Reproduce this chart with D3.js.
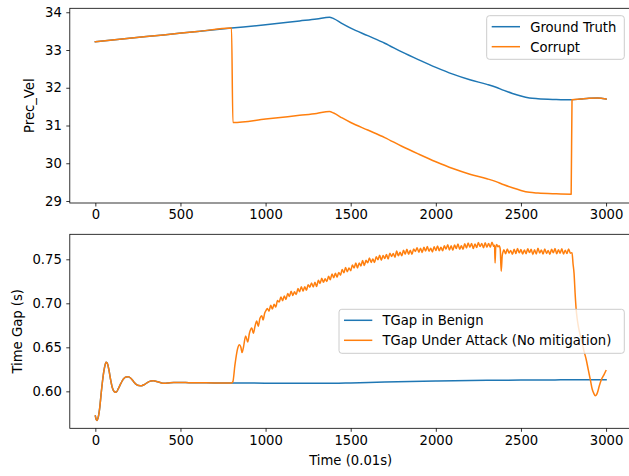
<!DOCTYPE html>
<html>
<head>
<meta charset="utf-8">
<script src="https://cdn.jsdelivr.net/npm/d3@7"></script>
<style>
  html, body { margin: 0; padding: 0; background: #ffffff; }
  svg { display: block; }
  text { font-family: "DejaVu Sans", sans-serif; fill: #000; }
</style>
</head>
<body>
<div id="chart"></div>
<script>
// ---------- data ----------
// x axis ticks (time in 0.01 s steps)
const timeTicks = [0, 500, 1000, 1500, 2000, 2500, 3000];
const velTicks = [29, 30, 31, 32, 33, 34];
const gapTicks = [0.60, 0.65, 0.70, 0.75];

// Preceding vehicle velocity before the attack starts (shared by both series)
const velBeforeAttack = [[0, 33.22], [200, 33.31], [400, 33.40], [600, 33.49], [800, 33.58]];

// Ground-truth velocity after t = 800
const groundTruthTail = [
  [1000, 33.67], [1200, 33.77], [1300, 33.82], [1375, 33.87], [1400, 33.83], [1450, 33.70],
  [1500, 33.58], [1600, 33.38], [1700, 33.18], [1800, 32.95], [1900, 32.74], [2000, 32.54],
  [2100, 32.36], [2200, 32.21], [2300, 32.09], [2350, 32.02], [2400, 31.93], [2450, 31.85],
  [2500, 31.78], [2550, 31.73], [2600, 31.71], [2700, 31.69], [2795, 31.68], [2850, 31.70],
  [2900, 31.72], [2950, 31.73], [3000, 31.70]
];

// Corrupted velocity reading after t = 800
const corruptTail = [
  [808, 31.08], [1000, 31.17], [1200, 31.27], [1300, 31.32], [1375, 31.37], [1400, 31.33],
  [1450, 31.20], [1500, 31.08], [1600, 30.88], [1700, 30.68], [1800, 30.45], [1900, 30.24],
  [2000, 30.04], [2100, 29.86], [2200, 29.71], [2300, 29.59], [2350, 29.52], [2400, 29.43],
  [2450, 29.35], [2500, 29.28], [2550, 29.23], [2600, 29.21], [2700, 29.19], [2795, 29.18],
  [2800, 31.68], [2850, 31.70], [2900, 31.72], [2950, 31.73], [3000, 31.70]
];

// Time gap during the initial settling (shared by both runs)
const gapSettling = [
  [0, 0.5720], [5, 0.5680], [10, 0.5670], [15, 0.5690], [25, 0.5800], [35, 0.5990],
  [45, 0.6160], [55, 0.6280], [63, 0.6330], [70, 0.6320], [80, 0.6240], [90, 0.6130],
  [100, 0.6040], [112, 0.5995], [122, 0.5990], [135, 0.6030], [150, 0.6090], [165, 0.6140],
  [180, 0.6163], [194, 0.6166], [210, 0.6145], [225, 0.6110], [240, 0.6080], [255, 0.6066],
  [272, 0.6064], [290, 0.6080], [310, 0.6105], [326, 0.6117], [341, 0.6120], [360, 0.6112],
  [380, 0.6100], [395, 0.6092], [409, 0.6091], [430, 0.6095], [460, 0.6100], [500, 0.6100],
  [550, 0.6098], [600, 0.6097], [700, 0.6096], [800, 0.6095]
];

// Benign time gap after t = 800
const benignTail = [
  [900, 0.6094], [1000, 0.6093], [1200, 0.6092], [1400, 0.6091], [1500, 0.6095], [1700, 0.6105],
  [2000, 0.6117], [2300, 0.6125], [2500, 0.6128], [2700, 0.6130], [3000, 0.6131]
];

// Time gap under attack after t = 800
const attackTail = [
  [808, 0.611], [820, 0.630], [835, 0.648], [846, 0.653], [855, 0.650], [862, 0.644],
  [870, 0.650], [883, 0.663], [895, 0.656], [905, 0.666], [919, 0.672], [928, 0.666],
  [938, 0.674], [948, 0.680], [957, 0.674], [967, 0.683], [978, 0.686], [985, 0.681],
  [995, 0.689], [1003, 0.692],
  [1010, 0.6941], [1020, 0.6911], [1030, 0.6977], [1040, 0.6934], [1050, 0.6990], [1060, 0.6958], [1070, 0.7031], [1080, 0.7014], [1090, 0.7073], [1100, 0.7030],
  [1110, 0.7083], [1120, 0.7044], [1130, 0.7112], [1140, 0.7078], [1150, 0.7138], [1160, 0.7090], [1170, 0.7130], [1180, 0.7099], [1190, 0.7167], [1200, 0.7132],
  [1210, 0.7189], [1220, 0.7138], [1230, 0.7188], [1240, 0.7147], [1250, 0.7212], [1260, 0.7183], [1270, 0.7232], [1280, 0.7186], [1290, 0.7238], [1300, 0.7191],
  [1310, 0.7261], [1320, 0.7226], [1330, 0.7285], [1340, 0.7238], [1350, 0.7278], [1360, 0.7247], [1370, 0.7308], [1380, 0.7267], [1390, 0.7334], [1400, 0.7291],
  [1410, 0.7341], [1420, 0.7297], [1430, 0.7351], [1440, 0.7320], [1450, 0.7385], [1460, 0.7346], [1470, 0.7408], [1480, 0.7358], [1490, 0.7402], [1500, 0.7371],
  [1510, 0.7435], [1520, 0.7402], [1530, 0.7457], [1540, 0.7402], [1550, 0.7459], [1560, 0.7425], [1570, 0.7485], [1580, 0.7429], [1590, 0.7488], [1600, 0.7460],
  [1610, 0.7516], [1620, 0.7464], [1630, 0.7503], [1640, 0.7465], [1650, 0.7529], [1660, 0.7495], [1670, 0.7546], [1680, 0.7489], [1690, 0.7542], [1700, 0.7508],
  [1710, 0.7554], [1720, 0.7502], [1730, 0.7569], [1740, 0.7532], [1750, 0.7565], [1760, 0.7524], [1770, 0.7593], [1780, 0.7539], [1790, 0.7579], [1800, 0.7540],
  [1810, 0.7602], [1820, 0.7558], [1830, 0.7613], [1840, 0.7558], [1850, 0.7603], [1860, 0.7557], [1870, 0.7617], [1880, 0.7589], [1890, 0.7632], [1900, 0.7581],
  [1910, 0.7626], [1920, 0.7578], [1930, 0.7636], [1940, 0.7594], [1950, 0.7645], [1960, 0.7591], [1970, 0.7626], [1980, 0.7584], [1990, 0.7642], [2000, 0.7600],
  [2010, 0.7652], [2020, 0.7598], [2030, 0.7638], [2040, 0.7597], [2050, 0.7654], [2060, 0.7616], [2070, 0.7666], [2080, 0.7606], [2090, 0.7654], [2100, 0.7604],
  [2110, 0.7662], [2120, 0.7623], [2130, 0.7673], [2140, 0.7615], [2150, 0.7655], [2160, 0.7614], [2170, 0.7677], [2180, 0.7629], [2190, 0.7685], [2200, 0.7637],
  [2210, 0.7679], [2220, 0.7623], [2230, 0.7673], [2240, 0.7634], [2250, 0.7690], [2260, 0.7644], [2270, 0.7680], [2280, 0.7630], [2290, 0.7689], [2300, 0.7637],
  [2310, 0.7679], [2320, 0.7637], [2330, 0.7695], [2340, 0.7647],
  [2345, 0.7660], [2348, 0.7458], [2352, 0.7640], [2358, 0.7668], [2364, 0.7642], [2372, 0.7655],
  [2378, 0.7620], [2384, 0.7364], [2390, 0.7540], [2396, 0.7590],
  [2400, 0.7609], [2410, 0.7562], [2420, 0.7618], [2430, 0.7570], [2440, 0.7601], [2450, 0.7556], [2460, 0.7615], [2470, 0.7567], [2480, 0.7622], [2490, 0.7573],
  [2500, 0.7612], [2510, 0.7559], [2520, 0.7606], [2530, 0.7564], [2540, 0.7619], [2550, 0.7576], [2560, 0.7614], [2570, 0.7555], [2580, 0.7608], [2590, 0.7561],
  [2600, 0.7625], [2610, 0.7571], [2620, 0.7605], [2630, 0.7560], [2640, 0.7618], [2650, 0.7567], [2660, 0.7601], [2670, 0.7556], [2680, 0.7615], [2690, 0.7573],
  [2700, 0.7622], [2710, 0.7562], [2720, 0.7609], [2730, 0.7569], [2740, 0.7619], [2750, 0.7559], [2760, 0.7604], [2770, 0.7565], [2780, 0.7617], [2790, 0.7570],
  [2800, 0.7575], [2806, 0.7450], [2812, 0.7340], [2818, 0.7120], [2824, 0.6940], [2830, 0.6830],
  [2838, 0.6730], [2848, 0.6640], [2858, 0.6564], [2870, 0.6460], [2884, 0.6356], [2896, 0.6240],
  [2908, 0.6128], [2918, 0.6030], [2928, 0.5977], [2937, 0.5950], [2945, 0.5965], [2951, 0.5995],
  [2960, 0.6060], [2968, 0.6110], [2976, 0.6148], [2988, 0.6190], [2999, 0.6234]
];

const velLegend = ["Ground Truth", "Corrupt"];
const gapLegend = ["TGap in Benign", "TGap Under Attack (No mitigation)"];
const colors = ["#1f77b4", "#ff7f0e"];

// ---------- layout ----------
const W = 629, H = 476;
const plotLeft = 69.8, plotRight = 631.6;
const top1 = 8.3, bottom1 = 203;
const top2 = 234.3, bottom2 = 428.3;
const fontSize = 13.2;

const svg = d3.select("#chart").append("svg")
  .attr("width", W).attr("height", H)
  .style("font-family", "'DejaVu Sans', sans-serif");

const x = d3.scaleLinear().domain([-150, 3150]).range([plotLeft, plotRight]);
const yVel = d3.scaleLinear().domain([28.947, 34.105]).range([bottom1, top1]);
const yGap = d3.scaleLinear().domain([0.5580, 0.7784]).range([bottom2, top2]);

function drawPanel(yScale, top, bottom, yTicks, yFmt, series, legendNames, legendBox, yLabel, yLabelX, xLabel) {
  const g = svg.append("g");

  const line = d3.line()
    .x(d => x(d[0])).y(d => yScale(d[1]))
    .curve(d3.curveMonotoneX);

  series.forEach((s, i) => {
    g.append("path")
      .datum(s)
      .attr("d", line)
      .attr("fill", "none")
      .attr("stroke", colors[i])
      .attr("stroke-width", 1.5)
      .attr("stroke-linejoin", "round")
      .attr("stroke-linecap", "square");
  });

  // frame
  g.append("rect")
    .attr("x", plotLeft).attr("y", top)
    .attr("width", plotRight - plotLeft).attr("height", bottom - top)
    .attr("fill", "none").attr("stroke", "#000").attr("stroke-width", 0.8);

  // x axis
  const xAxis = d3.axisBottom(x).tickValues(timeTicks).tickFormat(d3.format("d"))
    .tickSize(3.5).tickPadding(3.5);
  const gx = g.append("g").attr("transform", `translate(0,${bottom})`).call(xAxis);
  gx.select(".domain").remove();
  gx.selectAll("line").attr("stroke", "#000").attr("stroke-width", 0.8);
  gx.selectAll("text").attr("font-size", fontSize).attr("font-family", "DejaVu Sans").attr("fill", "#000");

  // y axis
  const yAxis = d3.axisLeft(yScale).tickValues(yTicks).tickFormat(yFmt)
    .tickSize(3.5).tickPadding(4.5);
  const gy = g.append("g").attr("transform", `translate(${plotLeft},0)`).call(yAxis);
  gy.select(".domain").remove();
  gy.selectAll("line").attr("stroke", "#000").attr("stroke-width", 0.8);
  gy.selectAll("text").attr("font-size", fontSize).attr("font-family", "DejaVu Sans").attr("fill", "#000");

  // y label
  g.append("text")
    .attr("transform", `translate(${yLabelX},${(top + bottom) / 2}) rotate(-90)`)
    .attr("text-anchor", "middle")
    .attr("font-size", fontSize)
    .text(yLabel);

  if (xLabel) {
    g.append("text")
      .attr("x", (plotLeft + plotRight) / 2)
      .attr("y", bottom + 36.5)
      .attr("text-anchor", "middle")
      .attr("font-size", fontSize)
      .text(xLabel);
  }

  // legend
  const lg = g.append("g");
  lg.append("rect")
    .attr("x", legendBox.x).attr("y", legendBox.y)
    .attr("width", legendBox.w).attr("height", legendBox.h)
    .attr("rx", 2.8).attr("ry", 2.8)
    .attr("fill", "#ffffff").attr("fill-opacity", 0.8)
    .attr("stroke", "#cccccc").attr("stroke-width", 1);
  legendNames.forEach((name, i) => {
    const cy = legendBox.y + 11 + i * 20;
    lg.append("line")
      .attr("x1", legendBox.x + 5).attr("x2", legendBox.x + 33.3)
      .attr("y1", cy).attr("y2", cy)
      .attr("stroke", colors[i]).attr("stroke-width", 1.5);
    lg.append("text")
      .attr("x", legendBox.x + 43.5)
      .attr("y", cy + 4.8)
      .attr("font-size", fontSize)
      .text(name);
  });
}

drawPanel(yVel, top1, bottom1, velTicks, d3.format("d"),
  [velBeforeAttack.concat(groundTruthTail), velBeforeAttack.concat(corruptTail)],
  velLegend, { x: 486.7, y: 15.7, w: 137.6, h: 43.6 }, "Prec_Vel", 33.8, null);

drawPanel(yGap, top2, bottom2, gapTicks, d3.format(".2f"),
  [gapSettling.concat(benignTail), gapSettling.concat(attackTail)],
  gapLegend, { x: 339, y: 309.3, w: 285.3, h: 44 }, "Time Gap (s)", 21.5, "Time (0.01s)");
</script>
</body>
</html>
